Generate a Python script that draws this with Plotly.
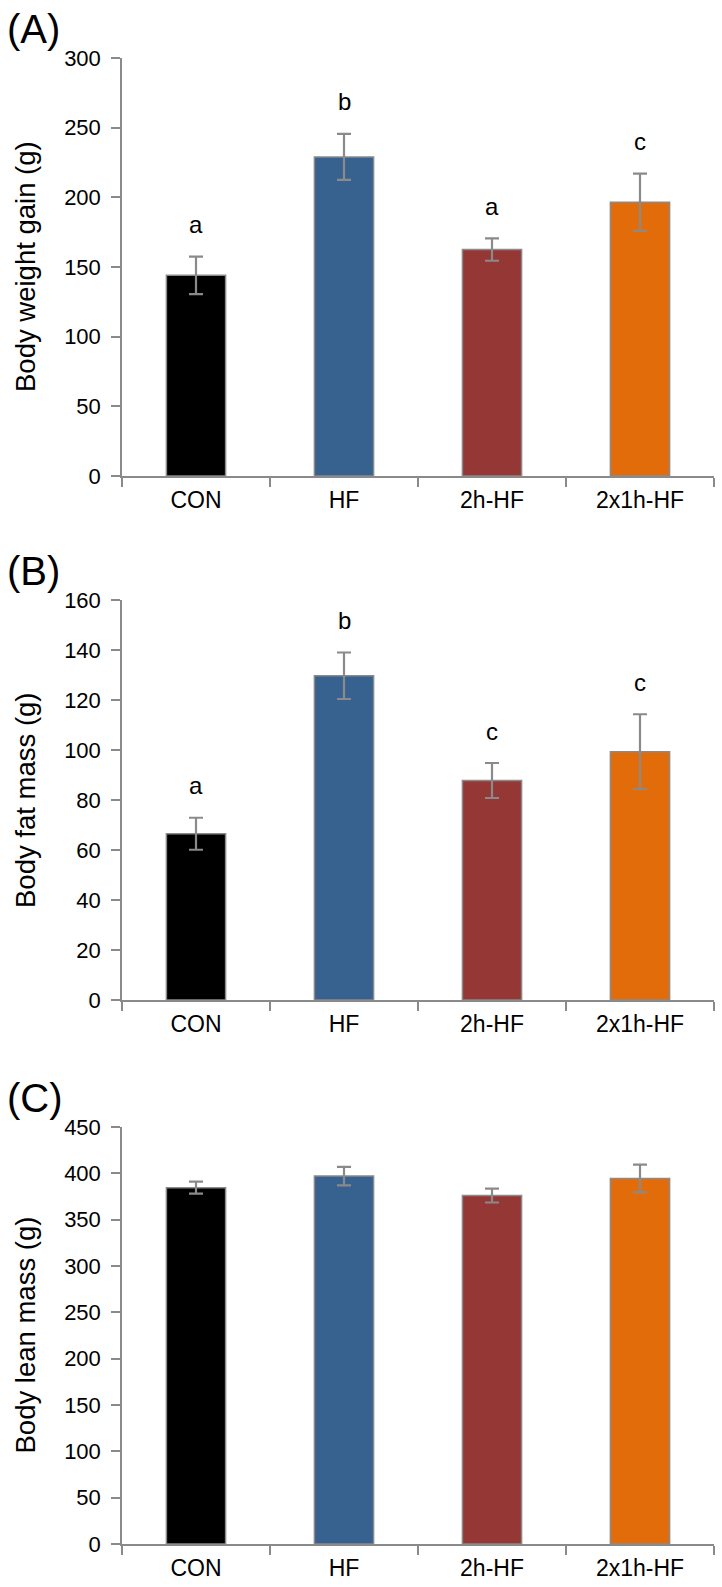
import plotly.graph_objects as go

categories = ["CON", "HF", "2h-HF", "2x1h-HF"]

gain_mean = [144, 229, 162.5, 196.5]
gain_err = [13.5, 16.5, 8, 20.5]
gain_letters = ["a", "b", "a", "c"]

fat_mean = [66.5, 129.7, 87.8, 99.3]
fat_err = [6.4, 9.3, 7, 15]
fat_letters = ["a", "b", "c", "c"]

lean_mean = [384.5, 397, 376, 394.5]
lean_err = [6.5, 10, 7.5, 15]
lean_letters = ["", "", "", ""]

y_titles = ["Body weight gain (g)", "Body fat mass (g)", "Body lean mass (g)"]
panel_tags = ["(A)", "(B)", "(C)"]
y_ranges = [[0, 300], [0, 160], [0, 450]]
y_dticks = [50, 20, 50]

bar_colors = ["#000000", "#37618f", "#943735", "#e36c0a"]
GRAY = "#8a8a8a"
FONT = "Liberation Sans, Arial, Helvetica, sans-serif"

W, H = 722, 1587
x_dom = [122 / W, 714 / W]
# panel pixel extents (top, bottom)
panels_px = [(58, 476), (600, 1000), (1127, 1544)]

means = [gain_mean, fat_mean, lean_mean]
errs = [gain_err, fat_err, lean_err]
letters = [gain_letters, fat_letters, lean_letters]

fig = go.Figure()
annotations = []
layout = dict(
    width=W, height=H,
    margin=dict(l=0, r=0, t=0, b=0, pad=0),
    paper_bgcolor="white", plot_bgcolor="white",
    showlegend=False,
    font=dict(family=FONT, color="black"),
)

for i in range(3):
    n = "" if i == 0 else str(i + 1)
    top, bot = panels_px[i]
    y_dom = [1 - bot / H, 1 - top / H]
    fig.add_trace(go.Bar(
        x=categories, y=means[i],
        xaxis="x" + n, yaxis="y" + n,
        width=0.4,
        marker=dict(color=bar_colors, line=dict(color=GRAY, width=1.5)),
        error_y=dict(type="data", array=errs[i], visible=True,
                     color=GRAY, thickness=2.2, width=7),
        hoverinfo="skip",
    ))
    layout["xaxis" + n] = dict(
        domain=x_dom, anchor="y" + n, type="category",
        range=[-0.5, 3.5], automargin=False,
        showline=True, linecolor=GRAY, linewidth=1.5,
        ticks="outside", tickson="boundaries", ticklen=9,
        tickcolor=GRAY, tickwidth=1.5,
        showgrid=False, zeroline=False,
        tickfont=dict(size=23, family=FONT, color="black"),
        ticklabelstandoff=3,
    )
    layout["yaxis" + n] = dict(
        domain=y_dom, anchor="x" + n,
        range=y_ranges[i], dtick=y_dticks[i], tick0=0, automargin=False,
        showline=True, linecolor=GRAY, linewidth=1.5,
        ticks="outside", ticklen=9, tickcolor=GRAY, tickwidth=1.5,
        showgrid=False, zeroline=False,
        tickfont=dict(size=22, family=FONT, color="black"),
        ticklabelstandoff=6,
    )
    # y title
    annotations.append(dict(
        text=y_titles[i], textangle=-90,
        x=25 / W, y=1 - (top + bot) / 2 / H,
        xref="paper", yref="paper", xanchor="center", yanchor="middle",
        showarrow=False, font=dict(size=27.5, family=FONT, color="black"),
    ))
    # panel tag
    annotations.append(dict(
        text=panel_tags[i],
        x=5 / W, y=1 - (top - 29) / H,
        xref="paper", yref="paper", xanchor="left", yanchor="middle",
        showarrow=False, font=dict(size=40, family=FONT, color="black"),
    ))
    # significance letters
    for c, m, e, L in zip(categories, means[i], errs[i], letters[i]):
        if L:
            annotations.append(dict(
                text=L, x=c, y=m + e,
                xref="x" + n, yref="y" + n,
                xanchor="center", yanchor="middle", yshift=32,
                showarrow=False, font=dict(size=24, family=FONT, color="black"),
            ))

layout["annotations"] = annotations
fig.update_layout(**layout)
fig.write_html(
    "out.html",
    config={"displayModeBar": False},
    post_script="document.body.style.margin='0';document.body.style.overflow='hidden';",
)
